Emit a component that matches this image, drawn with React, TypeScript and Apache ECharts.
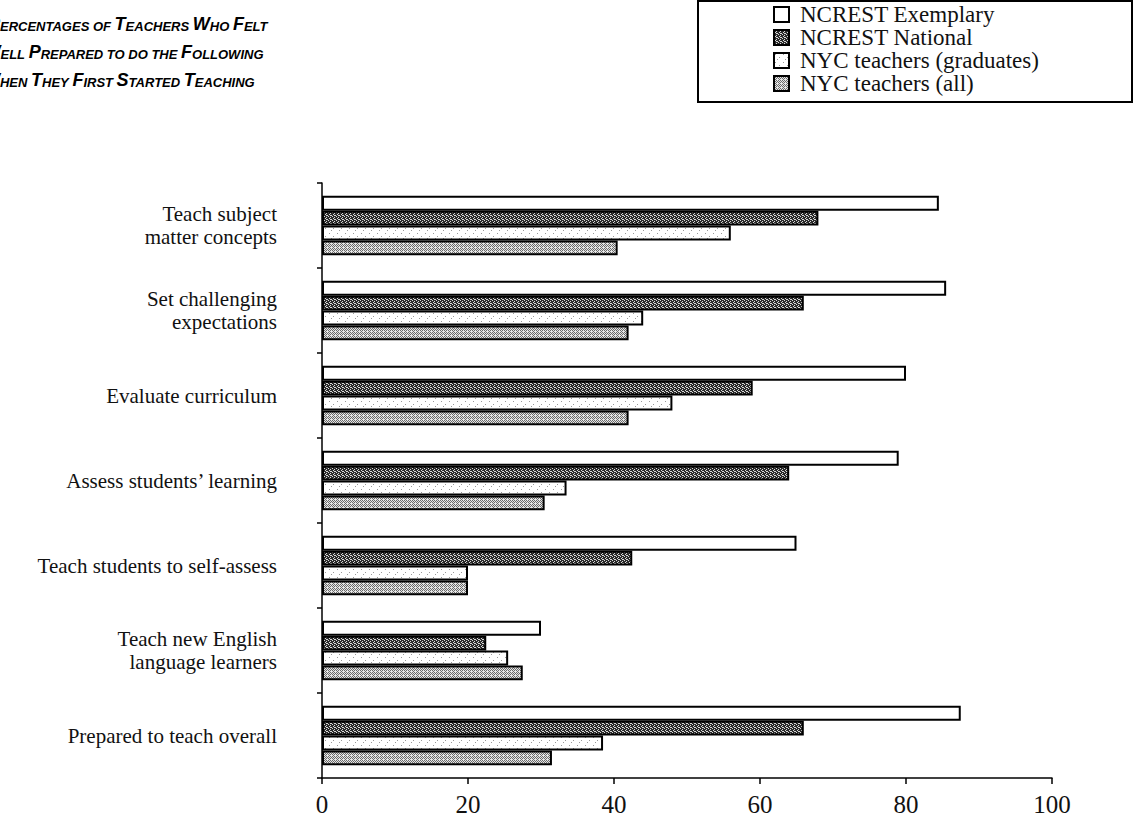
import React, { useEffect, useRef } from "react";
import * as echarts from "echarts";

const categories = [
  "Teach subject\nmatter concepts",
  "Set challenging\nexpectations",
  "Evaluate curriculum",
  "Assess students\u2019 learning",
  "Teach students to self-assess",
  "Teach new English\nlanguage learners",
  "Prepared to teach overall",
];
const seriesNames = [
  "NCREST Exemplary",
  "NCREST National",
  "NYC teachers (graduates)",
  "NYC teachers (all)",
];
const exemplary = [84.5, 85.5, 80, 79, 65, 30, 87.5];
const national = [68, 66, 59, 64, 42.5, 22.5, 66];
const nycGraduates = [56, 44, 48, 33.5, 20, 25.5, 38.5];
const nycAll = [40.5, 42, 42, 30.5, 20, 27.5, 31.5];
const xMin = 0;
const xMax = 100;
const xStep = 20;

const titleLines = [
  "{b|P}{s|ERCENTAGES OF }{b|T}{s|EACHERS }{b|W}{s|HO }{b|F}{s|ELT}",
  "{b|W}{s|ELL }{b|P}{s|REPARED TO DO THE }{b|F}{s|OLLOWING}",
  "{b|W}{s|HEN }{b|T}{s|HEY }{b|F}{s|IRST }{b|S}{s|TARTED }{b|T}{s|EACHING}",
];

function makePattern(size: number, bg: string, fg: string, pix: number[][]) {
  const c = document.createElement("canvas");
  c.width = size;
  c.height = size;
  const ctx = c.getContext("2d")!;
  ctx.fillStyle = bg;
  ctx.fillRect(0, 0, size, size);
  ctx.fillStyle = fg;
  pix.forEach(([x, y]) => ctx.fillRect(x, y, 1, 1));
  return { image: c, repeat: "repeat" } as any;
}

export default function App() {
  const ref = useRef<HTMLDivElement>(null);
  useEffect(() => {
    if (!ref.current) return;
    const chart = echarts.init(ref.current, null, { renderer: "svg" });

    const darkPat = makePattern(4, "#2a2a2a", "#d8d8d8", [
      [0, 0], [2, 1], [1, 2], [3, 3], [2, 3],
    ]);
    const midPat = makePattern(4, "#e6e6e6", "#6a6a6a", [
      [0, 0], [2, 0], [1, 1], [3, 1], [0, 2], [2, 2], [1, 3],
    ]);
    const lightPat = makePattern(8, "#ffffff", "#9a9a9a", [
      [1, 1], [5, 4], [3, 6],
    ]);

    const serif = "'Liberation Serif', 'Times New Roman', serif";
    const sans = "'Liberation Sans', Arial, sans-serif";
    const barBase = {
      type: "bar" as const,
      barGap: "0%",
      barCategoryGap: "30%",
    };
    const border = { borderColor: "#000", borderWidth: 2 };

    const richTitle = {
      b: {
        fontSize: 18,
        lineHeight: 18,
        fontWeight: "bold",
        fontStyle: "italic",
        fontFamily: sans,
        fill: "#000",
        verticalAlign: "bottom",
      },
      s: {
        fontSize: 13,
        lineHeight: 13,
        fontWeight: "bold",
        fontStyle: "italic",
        fontFamily: sans,
        fill: "#000",
        verticalAlign: "bottom",
      },
    };
    const titleX = [-12, -16.5, -17];
    const titleY = [15, 43, 71];

    chart.setOption({
      animation: false,
      backgroundColor: "#fff",
      grid: { left: 322, right: 82, top: 183, bottom: 45, containLabel: false },
      legend: {
        orient: "vertical",
        left: 768,
        top: -2,
        itemWidth: 15,
        itemHeight: 15,
        itemGap: 0,
        icon: "rect",
        itemStyle: { borderColor: "#000", borderWidth: 2 },
        textStyle: {
          fontFamily: serif,
          fontSize: 23,
          lineHeight: 20,
          color: "#111",
          padding: [0, 0, 0, 6],
        },
        data: seriesNames,
      },
      xAxis: {
        type: "value",
        min: xMin,
        max: xMax,
        interval: xStep,
        splitLine: { show: false },
        axisLine: { show: true, lineStyle: { color: "#000", width: 1.5 } },
        axisTick: { show: true, length: 6, lineStyle: { color: "#000", width: 1.5 } },
        axisLabel: {
          fontFamily: serif,
          fontSize: 25,
          color: "#111",
          margin: 14,
        },
      },
      yAxis: {
        type: "category",
        inverse: true,
        data: categories,
        axisLine: { show: true, lineStyle: { color: "#000", width: 1.5 } },
        axisTick: { show: true, length: 5, lineStyle: { color: "#000", width: 1.5 } },
        axisLabel: {
          fontFamily: serif,
          fontSize: 21,
          lineHeight: 23,
          color: "#111",
          margin: 45,
          align: "right",
        },
      },
      series: [
        { ...barBase, name: seriesNames[0], data: exemplary, itemStyle: { color: "#ffffff", ...border } },
        { ...barBase, name: seriesNames[1], data: national, itemStyle: { color: darkPat, ...border } },
        { ...barBase, name: seriesNames[2], data: nycGraduates, itemStyle: { color: lightPat, ...border } },
        { ...barBase, name: seriesNames[3], data: nycAll, itemStyle: { color: midPat, ...border } },
      ],
      graphic: [
        {
          type: "rect",
          x: 698,
          y: 1,
          shape: { x: 0, y: 0, width: 434, height: 101 },
          style: { fill: "none", stroke: "#000", lineWidth: 2 },
          z: 10,
        },
        ...titleLines.map((t, i) => ({
          type: "text",
          x: titleX[i],
          y: titleY[i],
          style: {
            text: t,
            rich: richTitle,
            fill: "#000",
          },
          z: 10,
        })),
      ],
    });
    return () => chart.dispose();
  }, []);
  return (
    <div
      ref={ref}
      style={{ position: "absolute", left: 0, top: 0, width: 1134, height: 823 }}
    />
  );
}
